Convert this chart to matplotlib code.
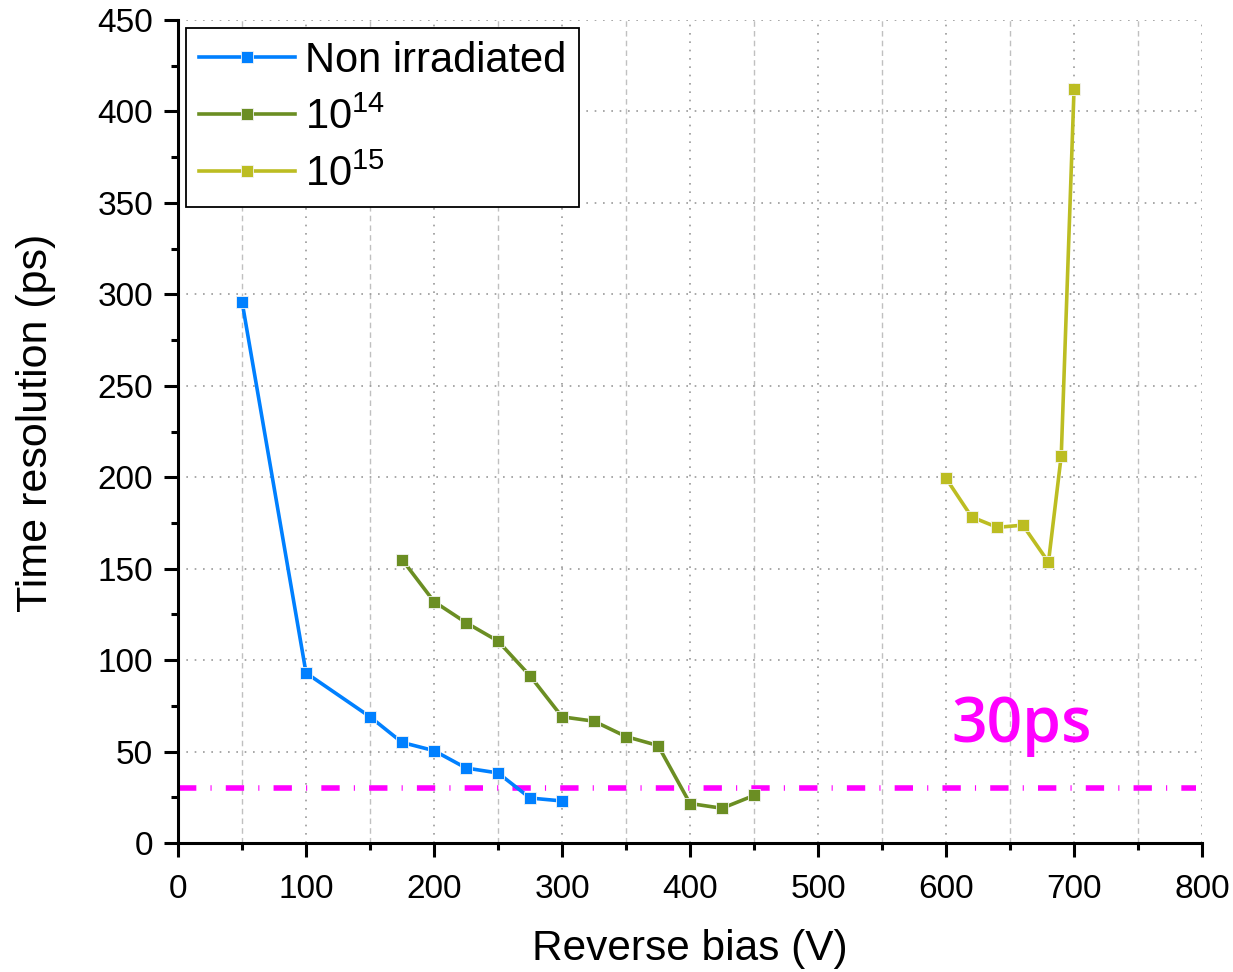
import matplotlib
matplotlib.use('Agg')
import matplotlib.pyplot as plt
from matplotlib.ticker import MultipleLocator

plt.rcParams['font.family'] = ['Liberation Sans', 'DejaVu Sans']
plt.rcParams['mathtext.fontset'] = 'custom'
plt.rcParams['mathtext.rm'] = 'Liberation Sans'
plt.rcParams['mathtext.it'] = 'Liberation Sans:italic'
plt.rcParams['mathtext.default'] = 'regular'

# reverse bias (V) and time resolution (ps) per fluence
bias_non = [50, 100, 150, 175, 200, 225, 250, 275, 300]
res_non = [296, 93, 69, 55, 50.5, 41, 38.3, 24.6, 23]

bias_14 = [175, 200, 225, 250, 275, 300, 325, 350, 375, 400, 425, 450]
res_14 = [155, 132, 120.5, 110.4, 91.4, 69, 66.6, 58.2, 53.3, 21.6, 19, 26]

bias_15 = [600, 620, 640, 660, 680, 690, 700]
res_15 = [199.4, 178.3, 172.6, 173.8, 153.6, 211.8, 412.3]

labels = ['Non irradiated', r'10$^{14}$', r'10$^{15}$']
colors = ['#0080FF', '#6B8E23', '#BCBD22']

target = 30

fig = plt.figure(figsize=(12.33, 9.72), dpi=100)
ax = fig.add_axes([0.1444, 0.1327, 0.8305, 0.8467])

series = [(bias_non, res_non), (bias_14, res_14), (bias_15, res_15)]
for (x, y), lab, c in zip(series, labels, colors):
    ax.plot(x, y, '-s', color=c, lw=2.6, ms=8.5, mec='#f4f4f4', mew=0.6,
            label=lab, zorder=3)

# 30 ps reference line
ax.plot([0, 795], [target, target], color='#FF00FF', lw=4,
        dashes=(3.3, 2.55, 0.2, 2.55), solid_capstyle='butt',
        dash_capstyle='butt', zorder=2)
ax.text(604, 55, '30ps', color='#FF00FF', fontsize=45, family='Open Sans',
        fontweight='semibold', ha='left', va='baseline')

ax.set_xlim(0, 800)
ax.set_ylim(0, 450)
ax.xaxis.set_major_locator(MultipleLocator(100))
ax.xaxis.set_minor_locator(MultipleLocator(50))
ax.yaxis.set_major_locator(MultipleLocator(50))
ax.yaxis.set_minor_locator(MultipleLocator(25))

ax.grid(True, which='major', axis='both', color='#999999', lw=1.2,
        linestyle=(0, (1, 4)))
ax.grid(True, which='minor', axis='x', color='#c0c0c0', lw=1.0,
        linestyle=(0, (4, 3)))
ax.set_axisbelow(True)

for s in ['top', 'right']:
    ax.spines[s].set_visible(False)
for s in ['left', 'bottom']:
    ax.spines[s].set_linewidth(2.2)

ax.tick_params(which='major', direction='out', length=10, width=2.2,
               labelsize=24, pad=8)
ax.tick_params(axis='x', which='major', pad=12)
ax.tick_params(which='minor', direction='out', length=5, width=2.2)

ax.set_xlabel('Reverse bias (V)', fontsize=30.5)
ax.set_ylabel('Time resolution (ps)', fontsize=31)
ax.xaxis.set_label_coords(0.5, -0.105)
ax.yaxis.set_label_coords(-0.119, 0.51)

leg = ax.legend(loc='upper left', fontsize=30, frameon=True, fancybox=False,
                edgecolor='black', framealpha=1, borderaxespad=0.2,
                borderpad=0.3, handlelength=2.3, handletextpad=0.25,
                labelspacing=0.4)
leg.get_frame().set_linewidth(1.3)

fig.savefig('out.png', dpi=100)
